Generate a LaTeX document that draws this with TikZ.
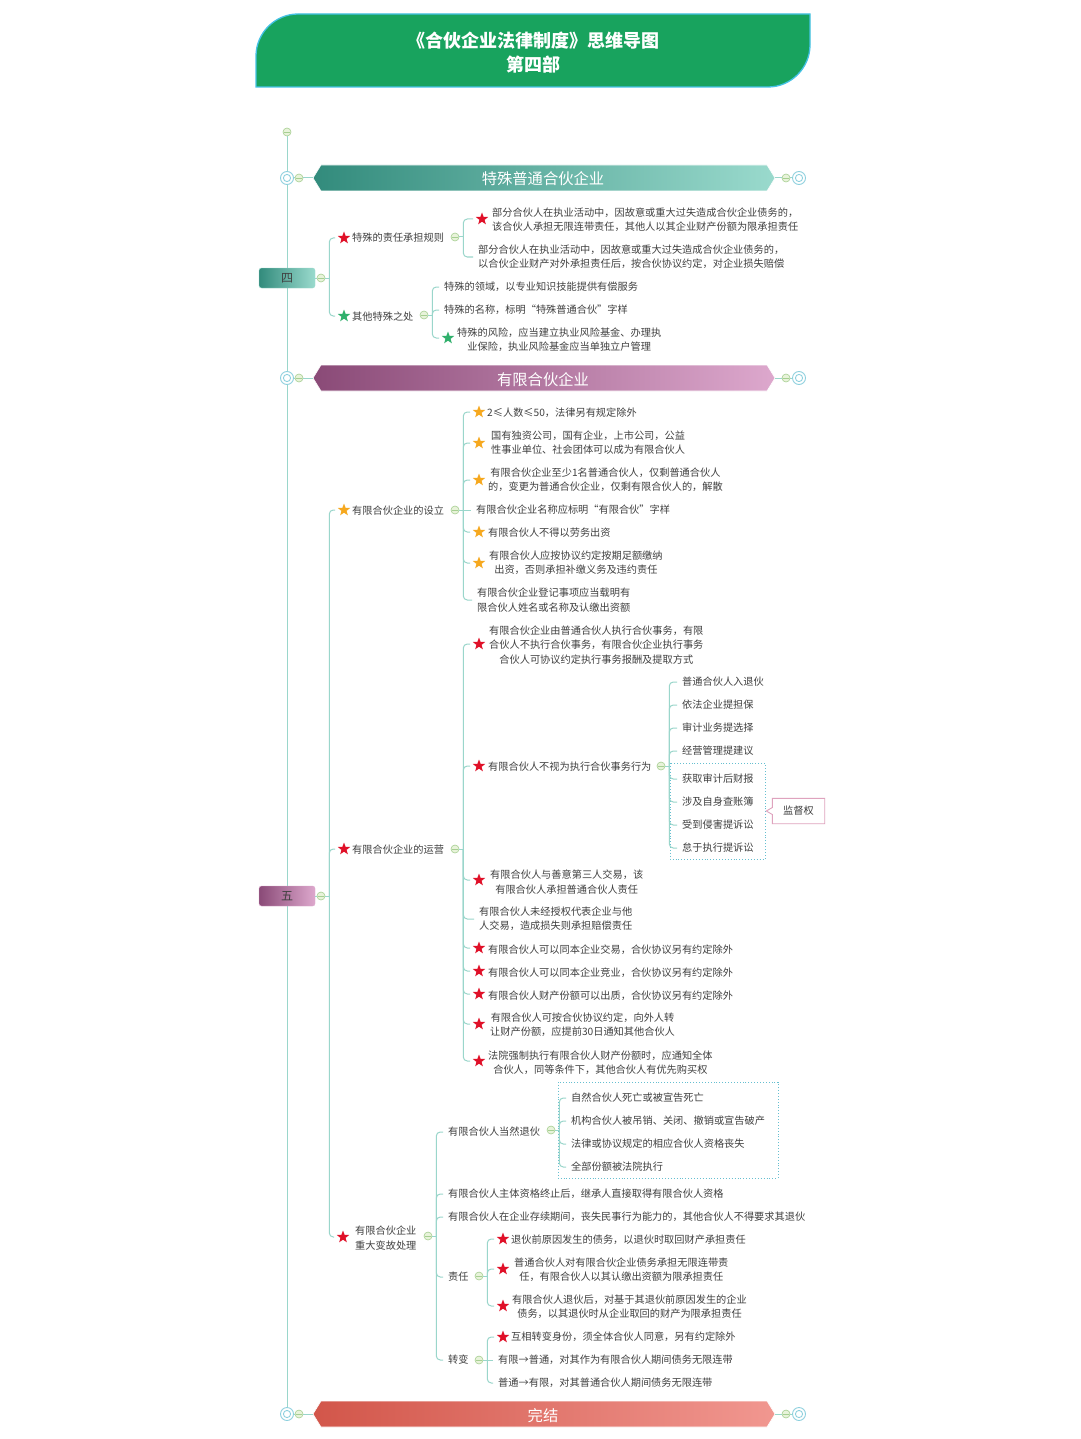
\documentclass[tikz,border=0pt]{standalone}
\usepackage{fontspec}
\setmainfont{Noto Sans CJK SC}
\usetikzlibrary{shapes.geometric,calc}
\definecolor{conncol}{HTML}{9AD6CB}
\definecolor{txtcol}{HTML}{404040}
\definecolor{starred}{HTML}{E01028}
\definecolor{starorg}{HTML}{F6A81E}
\definecolor{stargrn}{HTML}{30B06C}
\definecolor{knobdraw}{HTML}{A6CF92}
\definecolor{knobfill}{HTML}{E8F3DA}
\definecolor{ringcol}{HTML}{8ED0DE}
\definecolor{dotcol}{HTML}{66BFD0}
\definecolor{hdrgreen}{HTML}{18A35E}
\definecolor{hdrline}{HTML}{45C2E6}
\definecolor{tealA}{HTML}{328B7C}
\definecolor{tealB}{HTML}{9ADACD}
\definecolor{purA}{HTML}{8A4A77}
\definecolor{purB}{HTML}{DDA8CD}
\definecolor{redA}{HTML}{D2564A}
\definecolor{redB}{HTML}{F19790}
\definecolor{calloutcol}{HTML}{DFA3BE}
\tikzset{
 conn/.style={draw=conncol, line width=1, rounded corners=4},
 txt/.style={anchor=west, inner sep=0, text=txtcol, font=\fontsize{10.2}{14.2}\selectfont},
 ctxt/.style={txt, align=center},
 ltxt/.style={txt, align=left},
 mstar/.style={star, star points=5, star point ratio=2.4, minimum size=13, inner sep=0, draw=none},
 knob/.style={circle, minimum size=8, inner sep=0, draw=knobdraw, fill=knobfill, line width=0.6,
   path picture={\draw[knobdraw,line width=0.5] ([xshift=-2.6pt]path picture bounding box.center) -- ([xshift=2.6pt]path picture bounding box.center);}},
 ring/.style={circle, minimum size=13, inner sep=0, draw=ringcol, fill=white, line width=0.9,
   path picture={\draw[ringcol,line width=0.9] (path picture bounding box.center) circle (3.6pt);}},
 dotbox/.style={draw=dotcol, line width=0.9, dotted},
 bantxt/.style={text=white, font=\fontsize{15.3}{18}\selectfont},
 sidebox/.style={rectangle, rounded corners=2.5, minimum width=56, minimum height=20, inner sep=0, font=\fontsize{12}{14}\selectfont, text=txtcol},
 titletxt/.style={text=white, font=\bfseries\fontsize{18}{20}\selectfont},
}
\newcommand\mmfan[2]{%
  \draw[conn] (#1.east) -- ++(4,0);
  \foreach \mmch in {#2}{\draw[conn] ($(#1.east)+(4,0)$) |- ($(\mmch.west)+(-5,0)$);}}
\begin{document}
\begin{tikzpicture}[x=1pt,y=-1pt]
\useasboundingbox[fill=white] (0,0) rectangle (1080,1439);

% header
\filldraw[fill=hdrgreen, draw=hdrline, line width=1.3] (256,87) -- (256,56) .. controls (256,33) and (275,14) .. (298,14) -- (810,14) -- (810,45) .. controls (810,68) and (791,87) .. (768,87) -- cycle;
\node[titletxt] (title1) at (533,41) {《合伙企业法律制度》思维导图};
\node[titletxt] (title2) at (533,65) {第四部};

% spine
\node[knob] (top) at (287,132) {};
\node[ring] (r1) at (287,178) {};
\node[ring] (r2) at (287,378) {};
\node[ring] (r3) at (287,1414) {};
\draw[conn] (top) -- (r1) -- (r2) -- (r3);

% banners
\shadedraw[left color=tealA, right color=tealB, draw=white, line width=0.6] (313,178) -- (321,165) -- (767,165) -- (775,178) -- (767,191) -- (321,191) -- cycle;
\node[bantxt] (ban1) at (543,179) {特殊普通合伙企业};
\coordinate (b1L) at (313,178); \coordinate (b1R) at (775,178);
\node[knob] (k1l) at (299,178) {}; \node[knob] (k1r) at (786,178) {}; \node[ring] (r1r) at (799,178) {};
\draw[conn] (r1) -- (k1l) -- (b1L); \draw[conn] (b1R) -- (k1r) -- (r1r);

\shadedraw[left color=purA, right color=purB, draw=white, line width=0.6] (313,378) -- (321,365) -- (767,365) -- (775,378) -- (767,391) -- (321,391) -- cycle;
\node[bantxt] (ban2) at (543,380) {有限合伙企业};
\coordinate (b2L) at (313,378); \coordinate (b2R) at (775,378);
\node[knob] (k2l) at (299,378) {}; \node[knob] (k2r) at (786,378) {}; \node[ring] (r2r) at (799,378) {};
\draw[conn] (r2) -- (k2l) -- (b2L); \draw[conn] (b2R) -- (k2r) -- (r2r);

\shadedraw[left color=redA, right color=redB, draw=white, line width=0.6] (313,1414) -- (321,1401) -- (767,1401) -- (775,1414) -- (767,1427) -- (321,1427) -- cycle;
\node[bantxt] (ban3) at (543,1416) {完结};
\coordinate (b3L) at (313,1414); \coordinate (b3R) at (775,1414);
\node[knob] (k3l) at (299,1414) {}; \node[knob] (k3r) at (786,1414) {}; \node[ring] (r3r) at (799,1414) {};
\draw[conn] (r3) -- (k3l) -- (b3L); \draw[conn] (b3R) -- (k3r) -- (r3r);

% ===== Section 四 =====
\node[sidebox, left color=tealA, right color=tealB, draw=tealB] (n4) at (287,278) {四};
\node[knob] (c4) at (321,278) {};
\draw[conn] (n4) -- (c4);

\node[mstar, fill=starred] (s4a) at (344,238) {};
\node[txt] (t4a) at (352,238) {特殊的责任承担规则};
\node[knob] (c4a) at (455,237) {};
\node[mstar, fill=starred] (a1s) at (482,219) {};
\node[ltxt] (a1) at (492,220) {部分合伙人在执业活动中，因故意或重大过失造成合伙企业债务的，\\该合伙人承担无限连带责任，其他人以其企业财产份额为限承担责任};
\node[ltxt] (a2) at (478,257) {部分合伙人在执业活动中，因故意或重大过失造成合伙企业债务的，\\以合伙企业财产对外承担责任后，按合伙协议约定，对企业损失赔偿};
\mmfan{c4a}{a1s,a2}

\node[mstar, fill=stargrn] (s4b) at (344,316) {};
\node[txt] (t4b) at (352,317) {其他特殊之处};
\node[knob] (c4b) at (424,315) {};
\node[txt] (b1) at (444,287) {特殊的领域，以专业知识技能提供有偿服务};
\node[txt] (b2) at (444,310) {特殊的名称，标明“特殊普通合伙”字样};
\node[mstar, fill=stargrn] (b3s) at (448,338) {};
\node[ctxt] (b3) at (457,340) {特殊的风险，应当建立执业风险基金、办理执\\业保险，执业风险基金应当单独立户管理};
\mmfan{c4b}{b1,b2,b3s}
\mmfan{c4}{s4a,s4b}

% ===== Section 五 =====
\node[sidebox, left color=purA, right color=purB, draw=purB] (n5) at (287,896) {五};
\node[knob] (c5) at (321,896) {};
\draw[conn] (n5) -- (c5);

% 设立
\node[mstar, fill=starorg] (s5a) at (344,510) {};
\node[txt] (t5a) at (352,511) {有限合伙企业的设立};
\node[knob] (c5a) at (455,510) {};
\node[mstar, fill=starorg] (p1s) at (479,412) {};
\node[txt] (p1) at (487,413) {2≤人数≤50，法律另有规定除外};
\node[mstar, fill=starorg] (p2s) at (479,443) {};
\node[ctxt] (p2) at (491,443) {国有独资公司，国有企业，上市公司，公益\\性事业单位、社会团体可以成为有限合伙人};
\node[mstar, fill=starorg] (p3s) at (479,480) {};
\node[ctxt] (p3) at (488,480) {有限合伙企业至少1名普通合伙人，仅剩普通合伙人\\的，变更为普通合伙企业，仅剩有限合伙人的，解散};
\node[txt] (p4) at (476,510) {有限合伙企业名称应标明“有限合伙”字样};
\node[mstar, fill=starorg] (p5s) at (479,532) {};
\node[txt] (p5) at (488,533) {有限合伙人不得以劳务出资};
\node[mstar, fill=starorg] (p6s) at (479,563) {};
\node[ctxt] (p6) at (489,563) {有限合伙人应按协议约定按期足额缴纳\\出资，否则承担补缴义务及违约责任};
\node[ltxt] (p7) at (477,600) {有限合伙企业登记事项应当载明有\\限合伙人姓名或名称及认缴出资额};
\mmfan{c5a}{p1s,p2s,p3s,p5s,p6s,p7}
\draw[conn] (c5a.east) -- ($(p4.west)+(-5,0)$);

% 运营
\node[mstar, fill=starred] (s5b) at (344,849) {};
\node[txt] (t5b) at (352,850) {有限合伙企业的运营};
\node[knob] (c5b) at (455,849) {};
\node[mstar, fill=starred] (q1s) at (479,644) {};
\node[ctxt] (q1) at (489,645) {有限合伙企业由普通合伙人执行合伙事务，有限\\合伙人不执行合伙事务，有限合伙企业执行事务\\合伙人可协议约定执行事务报酬及提取方式};
\node[mstar, fill=starred] (q2s) at (479,766) {};
\node[txt] (q2) at (488,767) {有限合伙人不视为执行合伙事务行为};
\node[knob] (c5q) at (661,766) {};
\node[txt] (e1) at (682,682) {普通合伙人入退伙};
\node[txt] (e2) at (682,705) {依法企业提担保};
\node[txt] (e3) at (682,728) {审计业务提选择};
\node[txt] (e4) at (682,751) {经营管理提建议};
\node[txt] (e5) at (682,779) {获取审计后财报};
\node[txt] (e6) at (682,802) {涉及自身查账簿};
\node[txt] (e7) at (682,825) {受到侵害提诉讼};
\node[txt] (e8) at (682,848) {怠于执行提诉讼};
\draw[dotbox] (670,763) rectangle (765,859);
\mmfan{c5q}{e1,e2,e3,e4,e5,e6,e7,e8}
\node[inner sep=0, minimum width=52, minimum height=25, text=txtcol, font=\fontsize{10.2}{12}\selectfont] (jd) at (798.5,811) {监督权};
\draw[draw=calloutcol, line width=0.9] (jd.north west) -- ($(jd.west)+(0,-3.5)$) -- ($(jd.west)+(-6,0)$) -- ($(jd.west)+(0,3.5)$) -- (jd.south west) -- (jd.south east) -- (jd.north east) -- cycle;

\node[mstar, fill=starred] (q3s) at (479,880) {};
\node[ctxt] (q3) at (490,882) {有限合伙人与善意第三人交易，该\\有限合伙人承担普通合伙人责任};
\node[ltxt] (q4) at (479,919) {有限合伙人未经授权代表企业与他\\人交易，造成损失则承担赔偿责任};
\node[mstar, fill=starred] (q5s) at (479,948) {};
\node[txt] (q5) at (488,950) {有限合伙人可以同本企业交易，合伙协议另有约定除外};
\node[mstar, fill=starred] (q6s) at (479,971) {};
\node[txt] (q6) at (488,973) {有限合伙人可以同本企业竞业，合伙协议另有约定除外};
\node[mstar, fill=starred] (q7s) at (479,994) {};
\node[txt] (q7) at (488,996) {有限合伙人财产份额可以出质，合伙协议另有约定除外};
\node[mstar, fill=starred] (q8s) at (479,1024) {};
\node[ctxt] (q8) at (490,1025) {有限合伙人可按合伙协议约定，向外人转\\让财产份额，应提前30日通知其他合伙人};
\node[mstar, fill=starred] (q9s) at (479,1061) {};
\node[ctxt] (q9) at (488,1063) {法院强制执行有限合伙人财产份额时，应通知全体\\合伙人，同等条件下，其他合伙人有优先购买权};
\mmfan{c5b}{q1s,q2s,q3s,q4,q5s,q6s,q7s,q8s,q9s}

% 重大变故处理
\node[mstar, fill=starred] (s5c) at (343,1237) {};
\node[ltxt] (t5c) at (355,1238) {有限合伙企业\\重大变故处理};
\node[knob] (c5c) at (428,1236) {};
\node[txt] (f1) at (448,1132) {有限合伙人当然退伙};
\node[knob] (c5f) at (551,1130) {};
\node[txt] (g1) at (571,1098) {自然合伙人死亡或被宣告死亡};
\node[txt] (g2) at (571,1121) {机构合伙人被吊销、关闭、撤销或宣告破产};
\node[txt] (g3) at (571,1144) {法律或协议规定的相应合伙人资格丧失};
\node[txt] (g4) at (571,1167) {全部份额被法院执行};
\draw[dotbox] (558,1082) rectangle (778,1178);
\mmfan{c5f}{g1,g2,g3,g4}
\node[txt] (f2) at (448,1194) {有限合伙人主体资格终止后，继承人直接取得有限合伙人资格};
\node[txt] (f3) at (448,1217) {有限合伙人在企业存续期间，丧失民事行为能力的，其他合伙人不得要求其退伙};
\node[txt] (f4) at (448,1277) {责任};
\node[knob] (c5g) at (479,1276) {};
\node[mstar, fill=starred] (h1s) at (503,1239) {};
\node[txt] (h1) at (511,1240) {退伙前原因发生的债务，以退伙时取回财产承担责任};
\node[mstar, fill=starred] (h2s) at (503,1269) {};
\node[ctxt] (h2) at (514,1270) {普通合伙人对有限合伙企业债务承担无限连带责\\任，有限合伙人以其认缴出资额为限承担责任};
\node[mstar, fill=starred] (h3s) at (503,1306) {};
\node[ctxt] (h3) at (512,1307) {有限合伙人退伙后，对基于其退伙前原因发生的企业\\债务，以其退伙时从企业取回的财产为限承担责任};
\mmfan{c5g}{h1s,h2s,h3s}
\node[txt] (f5) at (448,1360) {转变};
\node[knob] (c5h) at (479,1360) {};
\node[mstar, fill=starred] (i1s) at (503,1337) {};
\node[txt] (i1) at (511,1337) {互相转变身份，须全体合伙人同意，另有约定除外};
\node[txt] (i2) at (498,1360) {有限→普通，对其作为有限合伙人期间债务无限连带};
\node[txt] (i3) at (498,1383) {普通→有限，对其普通合伙人期间债务无限连带};
\mmfan{c5h}{i1s,i3}
\draw[conn] (c5h.east) -- ($(i2.west)+(-5,0)$);
\mmfan{c5c}{f1,f2,f3,f4,f5}
\mmfan{c5}{s5a,s5b,s5c}
\end{tikzpicture}
\end{document}
